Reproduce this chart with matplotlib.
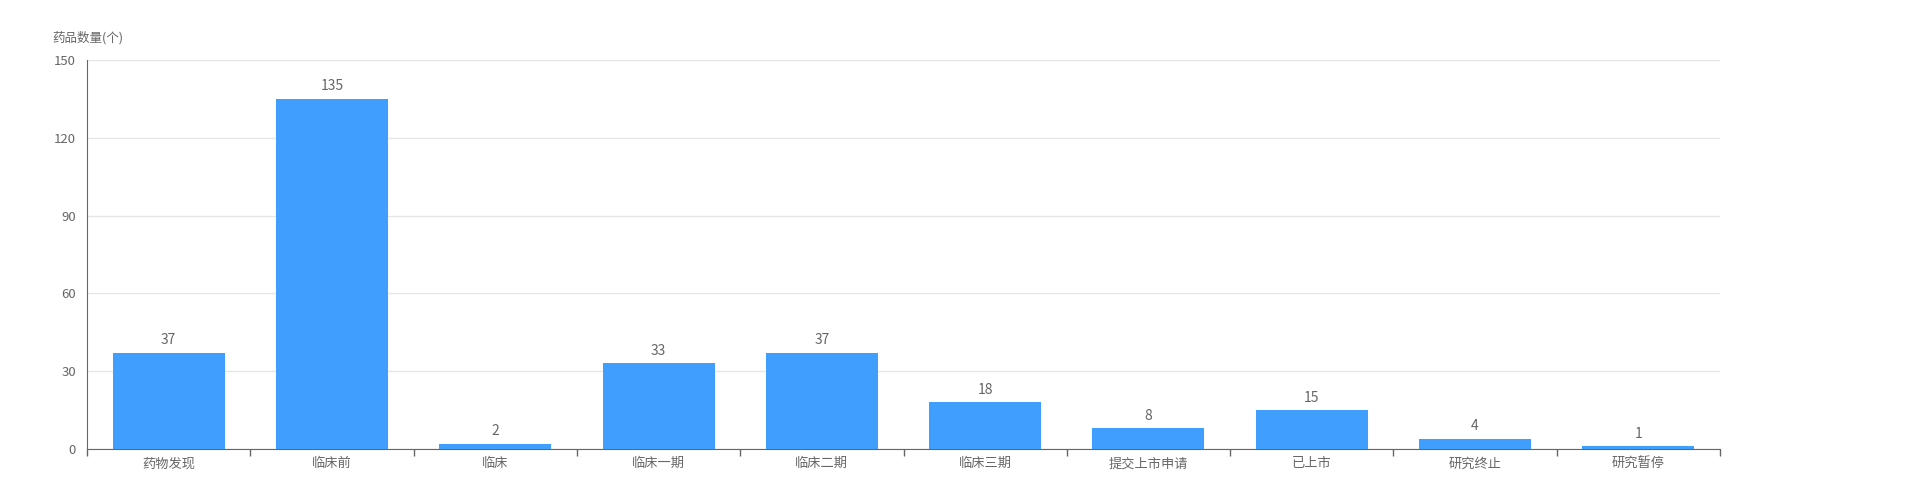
import matplotlib
matplotlib.use("Agg")
import matplotlib.pyplot as plt

plt.rcParams['font.family'] = ['Noto Sans CJK SC', 'DejaVu Sans']

# data
stages = ['药物发现', '临床前', '临床', '临床一期', '临床二期', '临床三期',
          '提交上市申请', '已上市', '研究终止', '研究暂停']
counts = [37, 135, 2, 33, 37, 18, 8, 15, 4, 1]
y_ticks = [0, 30, 60, 90, 120, 150]

bar_color = '#409EFF'
text_color = '#666666'

fig = plt.figure(figsize=(19.11, 5), dpi=100)
ax = fig.add_axes([87 / 1911, 1 - 449 / 500, (1720 - 87) / 1911, (449 - 60) / 500])

x = list(range(len(stages)))
ax.bar(x, counts, width=0.686, color=bar_color, linewidth=0, zorder=3)
for xi, v in zip(x, counts):
    ax.annotate(str(v), (xi, v), xytext=(0, 4), textcoords='offset points',
                ha='center', va='bottom', fontsize=10, color=text_color)

ax.set_xlim(-0.5, len(stages) - 0.5)
ax.set_ylim(0, 150)
ax.set_yticks(y_ticks)
ax.set_yticklabels([str(t) for t in y_ticks])
ax.set_xticks(x)
ax.set_xticklabels(stages)
# category boundary ticks
ax.set_xticks([i - 0.5 for i in range(len(stages) + 1)], minor=True)
ax.tick_params(axis='x', which='major', length=0, pad=6, labelsize=9.5, labelcolor=text_color)
ax.tick_params(axis='x', which='minor', length=5, color='#666666', width=1)
ax.tick_params(axis='y', length=0, pad=8, labelsize=9.5, labelcolor=text_color)

ax.grid(axis='y', color='#E6E6E6', linewidth=1, zorder=0)
for s in ['top', 'right']:
    ax.spines[s].set_visible(False)
ax.spines['left'].set_color('#666666')
ax.spines['bottom'].set_color('#666666')

fig.text(52 / 1911, 1 - 38 / 500, '药品数量(个)', fontsize=9, color=text_color,
         ha='left', va='center')

fig.savefig('out.png', dpi=100)
